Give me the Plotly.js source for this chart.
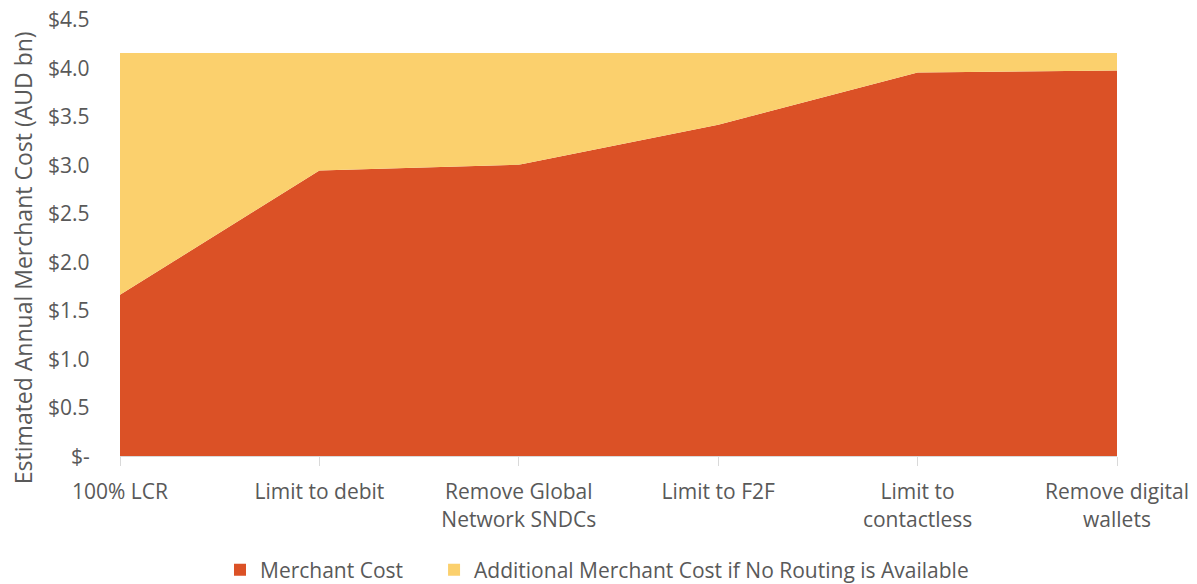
<!DOCTYPE html>
<html>
<head>
<meta charset="utf-8">
<script src="https://cdn.plot.ly/plotly-3.0.1.min.js"></script>
<style>html,body{margin:0;padding:0;background:#fff;}#chart{width:1197px;height:584px;}</style>
</head>
<body>
<div id="chart"></div>
<script>
const categories = ["100% LCR", "Limit to debit", "Remove Global<br>Network SNDCs", "Limit to F2F", "Limit to<br>contactless", "Remove digital<br>wallets"];
const merchantCost = [1.66, 2.94, 3.00, 3.41, 3.95, 3.97];
const totalNoRouting = [4.15, 4.15, 4.15, 4.15, 4.15, 4.15];
const additionalCost = totalNoRouting.map((t, i) => +(t - merchantCost[i]).toFixed(2));
const seriesNames = ["Merchant Cost", "Additional Merchant Cost if No Routing is Available"];
const seriesColors = ["#DB5126", "#FBD06D"];
const yTickVals = [0, 0.5, 1, 1.5, 2, 2.5, 3, 3.5, 4, 4.5];
const yTickText = ["$-", "$0.5", "$1.0", "$1.5", "$2.0", "$2.5", "$3.0", "$3.5", "$4.0", "$4.5"];
const yTitle = "Estimated Annual Merchant Cost (AUD bn)";

const fontFam = "Open Sans, sans-serif";
const textColor = "#595959";
const traces = [
  {x: categories, y: merchantCost, name: seriesNames[0], type: "scatter", mode: "none",
   stackgroup: "one", fillcolor: seriesColors[0], line: {width: 0}, showlegend: false},
  {x: categories, y: additionalCost, name: seriesNames[1], type: "scatter", mode: "none",
   stackgroup: "one", fillcolor: seriesColors[1], line: {width: 0}, showlegend: false},
  // legend-only entries (square swatches like the reference)
  {x: [null], y: [null], name: seriesNames[0], type: "bar", marker: {color: seriesColors[0]}, showlegend: true, legend: "legend"},
  {x: [null], y: [null], name: seriesNames[1], type: "bar", marker: {color: seriesColors[1]}, showlegend: true, legend: "legend2"}
];
const legendBase = {orientation: "h", xanchor: "left", yref: "container", y: 0.024, yanchor: "middle",
                    font: {size: 21, color: textColor}, itemwidth: 30};

// y tick labels placed on the y scale, set back from the plot edge like the reference
const yLabelAnnotations = yTickVals.map((v, i) => ({
  text: yTickText[i], xref: "paper", yref: "y", x: -0.0281, y: v, xanchor: "right", yanchor: "middle",
  showarrow: false, font: {size: 21, color: textColor}
}));

const layout = {
  width: 1197, height: 584,
  margin: {l: 120, r: 80, t: 19, b: 128, autoexpand: false},
  paper_bgcolor: "#fff", plot_bgcolor: "#fff",
  font: {family: fontFam, size: 21, color: textColor},
  showlegend: true,
  legend: Object.assign({}, legendBase, {x: 0.1003}),
  legend2: Object.assign({}, legendBase, {x: 0.315}),
  xaxis: {type: "category", range: [0, 5], showgrid: false, showline: true, linecolor: "#D9D9D9", linewidth: 1,
          ticks: "outside", ticklen: 9, tickcolor: "#D9D9D9", ticklabelstandoff: 8,
          tickfont: {size: 21, color: textColor}, zeroline: false, automargin: false},
  yaxis: {range: [0, 4.5], tickvals: yTickVals, showticklabels: false, showgrid: true, gridcolor: "#D9D9D9",
          zeroline: false, showline: false, ticks: "", automargin: false},
  annotations: [{text: yTitle, xref: "paper", yref: "paper", x: -0.0973, y: 0.455, xanchor: "center", yanchor: "middle",
                 textangle: -90, showarrow: false, font: {size: 23, color: textColor}}].concat(yLabelAnnotations)
};
Plotly.newPlot("chart", traces, layout, {displayModeBar: false, staticPlot: true});
</script>
</body>
</html>
